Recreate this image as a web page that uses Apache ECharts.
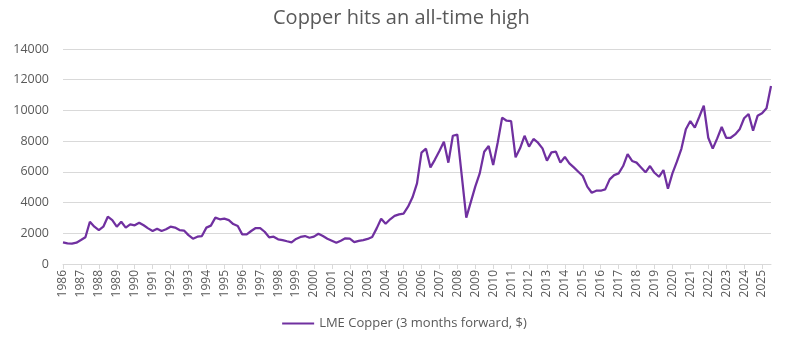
<!DOCTYPE html>
<html>
<head>
<meta charset="utf-8">
<script src="https://cdn.jsdelivr.net/npm/echarts@6/dist/echarts.min.js"></script>
<style>html,body{margin:0;padding:0;background:#fff}#c{width:809px;height:340px}</style>
</head>
<body>
<div id="c"></div>
<script>
const title = 'Copper hits an all-time high';
const seriesName = 'LME Copper (3 months forward, $)';
const startYear = 1986;
const quarters = ['Q1', 'Q2', 'Q3', 'Q4'];
// Quarterly LME copper price, 1986 Q1 .. 2025 Q3
const copper = [
  1410, 1340, 1330, 1390,
  1560, 1740, 2750, 2430,
  2210, 2430, 3080, 2860,
  2430, 2750, 2370, 2580,
  2520, 2690, 2520, 2320,
  2150, 2300, 2150, 2260,
  2430, 2370, 2210, 2180,
  1880, 1650, 1780, 1820,
  2370, 2500, 3020, 2910,
  2950, 2860, 2600, 2470,
  1930, 1930, 2150, 2340,
  2340, 2100, 1740, 1780,
  1610, 1560, 1480, 1410,
  1630, 1760, 1820, 1710,
  1780, 1970, 1820, 1650,
  1520, 1390, 1520, 1670,
  1650, 1430, 1500, 1560,
  1630, 1760, 2320, 2950,
  2620, 2910, 3130, 3230,
  3280, 3730, 4340, 5250,
  7250, 7510, 6290, 6800,
  7360, 7960, 6600, 8350,
  8420, 5720, 3020, 4030,
  5040, 5900, 7310, 7680,
  6450, 7900, 9530, 9330,
  9310, 6950, 7530, 8350,
  7640, 8140, 7900, 7530,
  6730, 7270, 7310, 6600,
  6970, 6550, 6290, 6010,
  5730, 5040, 4640, 4770,
  4770, 4860, 5510, 5790,
  5900, 6380, 7160, 6710,
  6600, 6290, 5970, 6380,
  5940, 5680, 6120, 4900,
  5900, 6660, 7500, 8770,
  9310, 8880, 9590, 10310,
  8220, 7510, 8180, 8920,
  8220, 8220, 8440, 8770,
  9490, 9770, 8680, 9650,
  9810, 10140, 11590
];
const yMin = 0, yMax = 14000, yStep = 2000;

const categories = copper.map((v, i) => (startYear + Math.floor(i / 4)) + ' ' + quarters[i % 4]);

const chart = echarts.init(document.getElementById('c'), null, {renderer: 'canvas'});
const txt = '#595959';
const font = '"Open Sans", "Noto Sans", sans-serif';
chart.setOption({
  animation: false,
  textStyle: {fontFamily: font},
  title: {
    text: title, left: 268, top: 3,
    textStyle: {fontFamily: font, fontSize: 20, fontWeight: 'normal', color: txt}
  },
  grid: {left: 63, right: 38, top: 49, bottom: 76},
  xAxis: {
    type: 'category', data: categories, boundaryGap: false,
    axisLine: {lineStyle: {color: '#d9d9d9'}},
    axisTick: {interval: 3, length: 5, lineStyle: {color: '#d9d9d9'}},
    axisLabel: {
      interval: 3, rotate: 90, color: txt, fontSize: 12, fontFamily: font, margin: 6,
      formatter: v => v.split(' ')[0]
    }
  },
  yAxis: {
    type: 'value', min: yMin, max: yMax, interval: yStep,
    axisLine: {show: false}, axisTick: {show: false},
    axisLabel: {color: txt, fontSize: 12.5, fontFamily: font, margin: 14, formatter: v => String(v)},
    splitLine: {lineStyle: {color: '#d9d9d9'}}
  },
  legend: {
    bottom: 5, left: 'center', icon: 'rect', itemWidth: 32, itemHeight: 2, itemGap: 10,
    textStyle: {color: txt, fontSize: 13, fontFamily: font}
  },
  series: [{
    name: seriesName, type: 'line', data: copper, showSymbol: false, symbol: 'none',
    lineStyle: {color: '#7030a0', width: 2.25},
    itemStyle: {color: '#7030a0'}
  }]
});
</script>
</body>
</html>
